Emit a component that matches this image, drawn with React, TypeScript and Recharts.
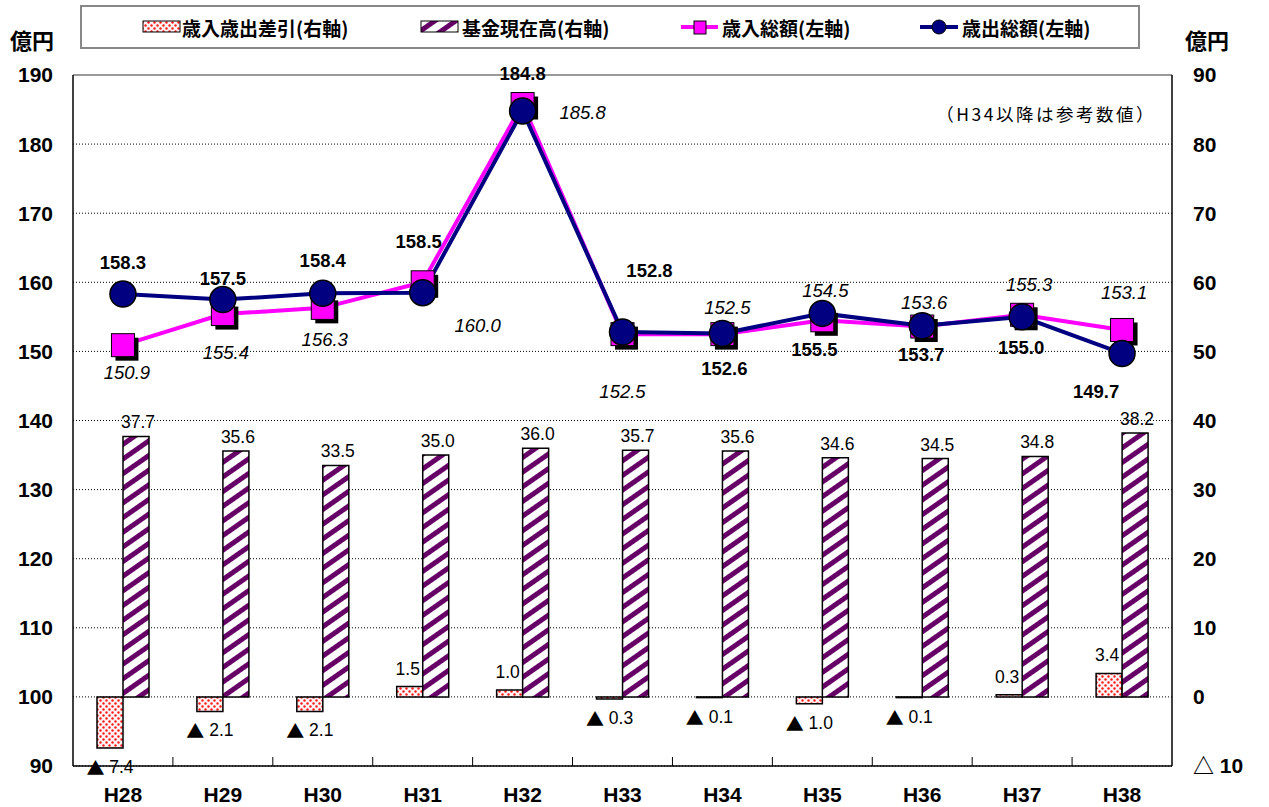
import { ComposedChart, Bar, Line, XAxis, YAxis, CartesianGrid, LabelList, ReferenceLine } from 'recharts'

const categories = ['H28', 'H29', 'H30', 'H31', 'H32', 'H33', 'H34', 'H35', 'H36', 'H37', 'H38']
// 右軸
const balance = [-7.4, -2.1, -2.1, 1.5, 1.0, -0.3, -0.1, -1.0, -0.1, 0.3, 3.4]
const fund = [37.7, 35.6, 33.5, 35.0, 36.0, 35.7, 35.6, 34.6, 34.5, 34.8, 38.2]
// 左軸
const revenue = [150.9, 155.4, 156.3, 160.0, 185.8, 152.5, 152.5, 154.5, 153.6, 155.3, 153.1]
const expenditure = [158.3, 157.5, 158.4, 158.5, 184.8, 152.8, 152.6, 155.5, 153.7, 155.0, 149.7]

const leftTicks = [90, 100, 110, 120, 130, 140, 150, 160, 170, 180, 190]
const rightTicks = [-10, 0, 10, 20, 30, 40, 50, 60, 70, 80, 90]

// label placement relative to each point [dx, dy]
const expLabelOffset: [number, number][] = [
    [0, -32], [0, -21], [0, -33], [-4, -51], [0, -37], [27, -62],
    [2, 35], [-8, 36], [-1, 29], [-1, 31], [-26, 38],
]
const revLabelOffset: [number, number][] = [
    [4, 27], [3, 38], [2, 32], [55, 43], [60, 8], [0, 57],
    [5, -27], [3, -30], [2, -24], [7, -30], [2, -37],
]

const data = categories.map((cat, i) => ({
    cat,
    balance: balance[i],
    fund: fund[i],
    revenue: revenue[i],
    expenditure: expenditure[i],
}))

const W = 1269
const H = 807
const PLOT_LEFT = 73
const PLOT_RIGHT = 1172
const PLOT_BOTTOM = 766
const BAND = (PLOT_RIGHT - PLOT_LEFT) / categories.length

const NUM_FONT = '"Liberation Sans", Arial, "Noto Sans CJK JP", sans-serif'
const JP_FONT = '"Noto Sans CJK JP", "Liberation Sans", sans-serif'

function Patterns({ prefix }: { prefix: string }) {
    return (
        <defs>
            <pattern id={`${prefix}dots`} width="6" height="6" patternUnits="userSpaceOnUse">
                <rect width="6" height="6" fill="#fff4f4" />
                <circle cx="1.5" cy="1.5" r="1.2" fill="#ff1a1a" />
                <circle cx="4.5" cy="4.5" r="1.2" fill="#ff1a1a" />
            </pattern>
            <pattern
                id={`${prefix}stripes`}
                width="12"
                height="12"
                patternUnits="userSpaceOnUse"
                patternTransform="rotate(55)"
            >
                <rect width="12" height="12" fill="#ffffff" />
                <rect x="0" width="5" height="12" fill="#660066" />
            </pattern>
        </defs>
    )
}

function SquareDot(props: any) {
    const { cx, cy } = props
    if (cx == null || cy == null) return null
    const s = 23
    return (
        <g>
            <rect x={cx - s / 2 + 4} y={cy - s / 2 + 4} width={s} height={s} fill="#000" />
            <rect x={cx - s / 2} y={cy - s / 2} width={s} height={s} fill="#ff00ff" stroke="#000" strokeWidth={1} />
        </g>
    )
}

function CircleDot(props: any) {
    const { cx, cy } = props
    if (cx == null || cy == null) return null
    return <circle cx={cx} cy={cy} r={13} fill="#000080" stroke="#000" strokeWidth={1.5} />
}

const pointOf = (props: any) => {
    const x = props.viewBox?.x ?? props.x
    const y = props.viewBox?.y ?? props.y
    return { x: Number(x), y: Number(y) }
}

const lineLabel = (offsets: [number, number][], italic: boolean) => (props: any) => {
    const { value, index } = props
    const { x, y } = pointOf(props)
    const [dx, dy] = offsets[index] || [0, -25]
    return (
        <text
            x={x + dx}
            y={y + dy}
            textAnchor="middle"
            dominantBaseline="central"
            fontFamily={NUM_FONT}
            fontSize={18.5}
            fontStyle={italic ? 'italic' : 'normal'}
            fontWeight={italic ? 'normal' : 'bold'}
            fill="#000"
        >
            {Number(value).toFixed(1)}
        </text>
    )
}

const rectOf = (props: any) => {
    const vb = props.viewBox ?? props
    const x = Number(vb.x)
    const y = Number(vb.y)
    const w = Number(vb.width)
    const h = Number(vb.height)
    return { x, w, top: Math.min(y, y + h), bottom: Math.max(y, y + h) }
}

function BalanceLabel(props: any) {
    const v = Number(props.value)
    const r = rectOf(props)
    const cx = r.x + r.w / 2
    if (v < 0) {
        return (
            <text x={cx} y={r.bottom + 19} textAnchor="middle" dominantBaseline="central" fontFamily={NUM_FONT} fontSize={17.5} fill="#000">
                <tspan fontFamily={JP_FONT} fontSize={18}>▲</tspan>
                {`  ${Math.abs(v).toFixed(1)}`}
            </text>
        )
    }
    return (
        <text x={cx - 2} y={r.top - 18} textAnchor="middle" dominantBaseline="central" fontFamily={NUM_FONT} fontSize={17.5} fill="#000">
            {v.toFixed(1)}
        </text>
    )
}

function FundLabel(props: any) {
    const v = Number(props.value)
    const r = rectOf(props)
    return (
        <text x={r.x + r.w / 2 + 2} y={r.top - 14} textAnchor="middle" dominantBaseline="central" fontFamily={NUM_FONT} fontSize={17.5} fill="#000">
            {v.toFixed(1)}
        </text>
    )
}

function CategoryTick(props: any) {
    const { x, payload, index } = props
    return (
        <g>
            <text x={x} y={794} textAnchor="middle" dominantBaseline="central" fontFamily={NUM_FONT} fontSize={21} fontWeight="bold" fill="#000">
                {payload.value}
            </text>
            {index < categories.length - 1 && (
                <line x1={x + BAND / 2} x2={x + BAND / 2} y1={PLOT_BOTTOM} y2={PLOT_BOTTOM - 9} stroke="#000" strokeWidth={1} />
            )}
        </g>
    )
}

function Overlay() {
    const legendText = { fontFamily: JP_FONT, fontSize: 19, fontWeight: 'bold' as const, fill: '#000' }
    return (
        <svg width={W} height={H} style={{ position: 'absolute', left: 0, top: 0, pointerEvents: 'none' }}>
            <Patterns prefix="lg-" />
            <rect x={81} y={6} width={1058} height={42} fill="none" stroke="#888" strokeWidth={2} />

            <rect x={143} y={21} width={37} height={11} fill="url(#lg-dots)" stroke="#000" strokeWidth={1} />
            <text x={182} y={27} dominantBaseline="central" {...legendText}>歳入歳出差引(右軸)</text>

            <rect x={421} y={21} width={37} height={11} fill="url(#lg-stripes)" stroke="#000" strokeWidth={1} />
            <text x={462} y={27} dominantBaseline="central" {...legendText}>基金現在高(右軸)</text>

            <line x1={681} x2={718} y1={27} y2={27} stroke="#ff00ff" strokeWidth={4} />
            <rect x={694} y={21} width={12} height={13} fill="#ff00ff" stroke="#000" strokeWidth={1} />
            <text x={722} y={27} dominantBaseline="central" {...legendText}>歳入総額(左軸)</text>

            <line x1={920} x2={958} y1={27} y2={27} stroke="#000080" strokeWidth={4} />
            <circle cx={939} cy={27} r={7} fill="#000080" stroke="#000" strokeWidth={1} />
            <text x={962} y={27} dominantBaseline="central" {...legendText}>歳出総額(左軸)</text>

            <text x={10} y={39} dominantBaseline="central" fontFamily={JP_FONT} fontSize={22} fontWeight="bold" fill="#000">億円</text>
            <text x={1185} y={39} dominantBaseline="central" fontFamily={JP_FONT} fontSize={22} fontWeight="bold" fill="#000">億円</text>

            <text x={1156} y={113} textAnchor="end" dominantBaseline="central" fontFamily={JP_FONT} fontSize={17.5} fill="#000" letterSpacing={2.5}>
                （H34以降は参考数値）
            </text>
        </svg>
    )
}

export default function App() {
    return (
        <div style={{ position: 'absolute', left: 0, top: 0, width: W, height: H, background: '#fff' }}>
            <ComposedChart
                width={W}
                height={H}
                data={data}
                margin={{ top: 75, right: 0, bottom: 0, left: 0 }}
                barGap={0}
                barSize={26}
            >
                <Patterns prefix="ch-" />
                <CartesianGrid yAxisId="left" vertical={false} stroke="#000" strokeDasharray="1 2" />

                <XAxis
                    dataKey="cat"
                    height={41}
                    axisLine={{ stroke: '#000', strokeWidth: 1.5 }}
                    tickLine={false}
                    tick={<CategoryTick />}
                    interval={0}
                />
                <YAxis
                    yAxisId="left"
                    orientation="left"
                    width={PLOT_LEFT}
                    domain={[90, 190]}
                    ticks={leftTicks}
                    allowDataOverflow
                    axisLine={{ stroke: '#000', strokeWidth: 1.5 }}
                    tickLine={false}
                    tickSize={0}
                    tickMargin={20}
                    tick={{ fontFamily: NUM_FONT, fontSize: 21, fontWeight: 'bold', fill: '#000' }}
                />
                <YAxis
                    yAxisId="right"
                    orientation="right"
                    width={W - PLOT_RIGHT}
                    domain={[-10, 90]}
                    ticks={rightTicks}
                    allowDataOverflow
                    axisLine={{ stroke: '#000', strokeWidth: 1.5 }}
                    tickLine={false}
                    tickSize={0}
                    tickMargin={21}
                    tickFormatter={(v: number) => (v < 0 ? `△ ${Math.abs(v)}` : `${v}`)}
                    tick={{ fontFamily: NUM_FONT, fontSize: 21, fontWeight: 'bold', fill: '#000' }}
                />
                <ReferenceLine yAxisId="left" y={190} stroke="#999" strokeWidth={2} />

                <Bar dataKey="balance" yAxisId="right" fill="url(#ch-dots)" stroke="#000" strokeWidth={1.5} isAnimationActive={false}>
                    <LabelList dataKey="balance" content={<BalanceLabel />} />
                </Bar>
                <Bar dataKey="fund" yAxisId="right" fill="url(#ch-stripes)" stroke="#000" strokeWidth={1.5} isAnimationActive={false}>
                    <LabelList dataKey="fund" content={<FundLabel />} />
                </Bar>

                <Line
                    dataKey="revenue"
                    yAxisId="left"
                    stroke="#ff00ff"
                    strokeWidth={4}
                    dot={<SquareDot />}
                    activeDot={false}
                    isAnimationActive={false}
                >
                    <LabelList dataKey="revenue" content={lineLabel(revLabelOffset, true)} />
                </Line>
                <Line
                    dataKey="expenditure"
                    yAxisId="left"
                    stroke="#000080"
                    strokeWidth={4}
                    dot={<CircleDot />}
                    activeDot={false}
                    isAnimationActive={false}
                >
                    <LabelList dataKey="expenditure" content={lineLabel(expLabelOffset, false)} />
                </Line>
            </ComposedChart>
            <Overlay />
        </div>
    )
}
